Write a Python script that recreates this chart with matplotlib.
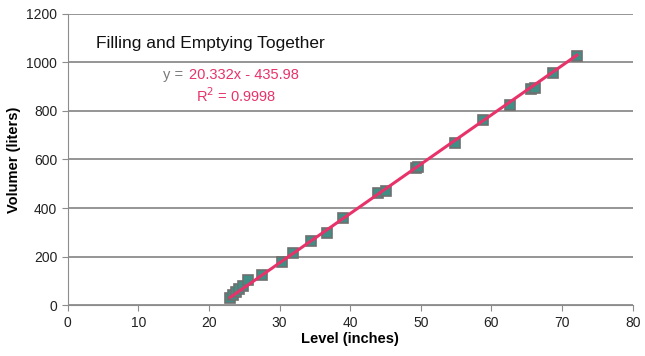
import numpy as np
import matplotlib
matplotlib.use('Agg')
import matplotlib.pyplot as plt

plt.rcParams['font.family'] = ['Liberation Sans', 'DejaVu Sans']

# measured level (inches) vs volume (liters)
level = [23.0, 23.4, 23.8, 24.3, 24.8, 25.5, 27.5, 30.3, 31.9, 34.5, 36.7,
         39.0, 44.0, 45.0, 49.3, 49.6, 54.8, 58.8, 62.6, 65.6, 66.1, 68.7, 72.1]
volume = [30, 41, 52, 65, 80, 103, 124, 177, 214, 265, 297,
          360, 462, 470, 563, 569, 668, 763, 825, 890, 895, 957, 1025]

slope = 20.332
intercept = -435.98

fig = plt.figure(figsize=(6.45, 3.56), dpi=100)
ax = fig.add_axes([0.105, 0.143, 0.876, 0.818])

ax.set_xlim(0, 80)
ax.set_ylim(0, 1200)
ax.set_xticks(range(0, 81, 10))
ax.set_yticks(range(0, 1201, 200))
ax.yaxis.grid(True, color='#8c8c8c', linewidth=1.3)
ax.set_axisbelow(True)
for s in ['top', 'right']:
    ax.spines[s].set_visible(False)
for s in ['left', 'bottom']:
    ax.spines[s].set_color('#8c8c8c')
ax.tick_params(colors='#8c8c8c', labelcolor='#222222', labelsize=10, length=4)

ax.plot(level, volume, linestyle='none', marker='s', markersize=6.5,
        markerfacecolor='#3f8f86', markeredgecolor='#6f6f6f', markeredgewidth=1.2,
        zorder=2)
xl = np.array([min(level), max(level)])
ax.plot(xl, slope * xl + intercept, color='#e8336a', linewidth=2.2, zorder=3)

ax.text(0.05, 0.9, 'Filling and Emptying Together', transform=ax.transAxes,
        fontsize=12.5, color='#111111', va='center')
ax.text(0.168, 0.79, 'y =', transform=ax.transAxes, fontsize=10.5,
        color='#7a7a7a', va='center')
ax.text(0.214, 0.79, '%.3fx - %.2f' % (slope, -intercept), transform=ax.transAxes,
        fontsize=10.5, color='#e8336a', va='center')
ax.text(0.227, 0.72, 'R$^2$ = 0.9998', transform=ax.transAxes, fontsize=10.5,
        color='#e8336a', va='center')

ax.set_xlabel('Level (inches)', fontsize=10.5, fontweight='bold', labelpad=2)
ax.set_ylabel('Volumer (liters)', fontsize=10.5, fontweight='bold', labelpad=4)

fig.savefig('out.png', dpi=100)
